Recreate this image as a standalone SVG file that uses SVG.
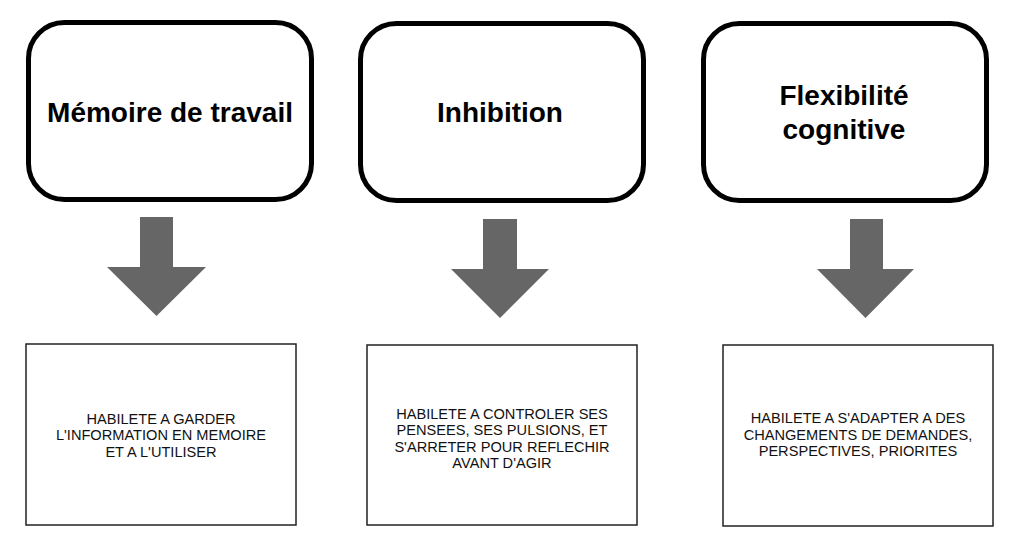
<svg xmlns="http://www.w3.org/2000/svg" width="1024" height="551" viewBox="0 0 1024 551">
<style>
.top{fill:#fff;stroke:#000;stroke-width:5}
.bot{fill:#fff;stroke:#222;stroke-width:1.5}
.title{font-family:"Liberation Sans",Arial,sans-serif;font-weight:bold;font-size:28px;fill:#000;text-anchor:middle}
.desc{font-family:"Liberation Sans",Arial,sans-serif;font-size:14.6px;fill:#111;text-anchor:middle}
.arrow{fill:#666}
</style>
<rect width="1024" height="551" fill="#fff"/>
<g id="node-memoire">
<rect class="top" x="28.5" y="22.5" width="283" height="177" rx="36"/>
<text class="title" x="170" y="122">Mémoire de travail</text>
</g>
<g id="node-inhibition">
<rect class="top" x="360.5" y="23.5" width="283" height="177" rx="36"/>
<text class="title" x="500" y="122">Inhibition</text>
</g>
<g id="node-flexibilite">
<rect class="top" x="703.5" y="23.5" width="283" height="177" rx="36"/>
<text class="title" x="844" y="105">Flexibilité</text>
<text class="title" x="844" y="139">cognitive</text>
</g>
<g id="connectors">
<polygon class="arrow" points="140,217 173,217 173,267 206,267 156.5,316 107,267 140,267"/>
<polygon class="arrow" points="483,219 517,219 517,269 549,269 500,318 451,269 483,269"/>
<polygon class="arrow" points="850,219 883,219 883,269 914,269 865.5,318 817,269 850,269"/>
</g>
<g id="desc-memoire">
<rect class="bot" x="26" y="344" width="270" height="181"/>
<text class="desc" x="161" y="423.7">HABILETE A GARDER</text>
<text class="desc" x="161" y="440.2">L'INFORMATION EN MEMOIRE</text>
<text class="desc" x="161" y="456.7">ET A L'UTILISER</text>
</g>
<g id="desc-inhibition">
<rect class="bot" x="367" y="345" width="270" height="180"/>
<text class="desc" x="502" y="418.7">HABILETE A CONTROLER SES</text>
<text class="desc" x="502" y="435.2">PENSEES, SES PULSIONS, ET</text>
<text class="desc" x="502" y="451.7">S'ARRETER POUR REFLECHIR</text>
<text class="desc" x="502" y="468.2">AVANT D'AGIR</text>
</g>
<g id="desc-flexibilite">
<rect class="bot" x="723" y="345" width="270" height="181"/>
<text class="desc" x="858" y="423.3">HABILETE A S'ADAPTER A DES</text>
<text class="desc" x="858" y="439.8">CHANGEMENTS DE DEMANDES,</text>
<text class="desc" x="858" y="456.3">PERSPECTIVES, PRIORITES</text>
</g>
</svg>
